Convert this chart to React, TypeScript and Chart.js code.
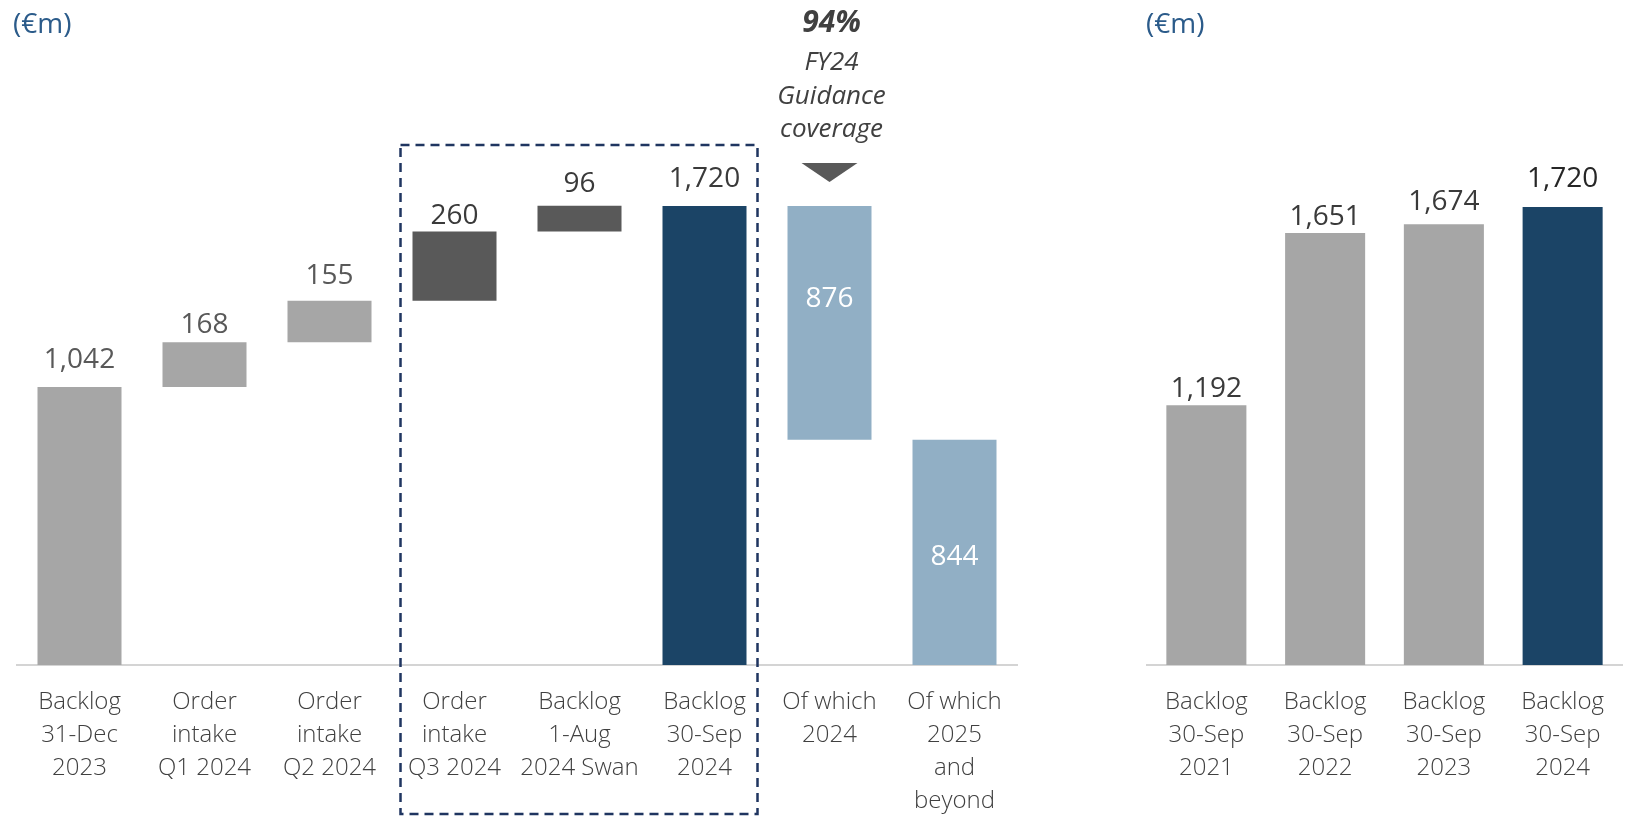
import React, { useEffect, useRef } from "react";
import { Chart, registerables } from "chart.js";

Chart.register(...registerables);

// ---------- data ----------
const leftCategories: string[][] = [
  ["Backlog", "31-Dec", "2023"],
  ["Order", "intake", "Q1 2024"],
  ["Order", "intake", "Q2 2024"],
  ["Order", "intake", "Q3 2024"],
  ["Backlog", "1-Aug", "2024 Swan"],
  ["Backlog", "30-Sep", "2024"],
  ["Of which", "2024"],
  ["Of which", "2025", "and", "beyond"],
];
const leftValues = [1042, 168, 155, 260, 96, 1720, 876, 844];
const leftKinds = ["total", "step", "step", "step", "step", "total", "split", "split"];
const leftValueLabels = ["1,042", "168", "155", "260", "96", "1,720", "876", "844"];

const rightCategories: string[][] = [
  ["Backlog", "30-Sep", "2021"],
  ["Backlog", "30-Sep", "2022"],
  ["Backlog", "30-Sep", "2023"],
  ["Backlog", "30-Sep", "2024"],
];
const rightValues = [1192, 1651, 1674, 1720];
const rightValueLabels = ["1,192", "1,651", "1,674", "1,720"];

const unitLabel = "(€m)";
const coverageLines = ["94%", "FY24", "Guidance", "coverage"];

// ---------- styles ----------
const GREY = "#A6A6A6";
const DARK = "#595959";
const NAVY = "#1B4466";
const LIGHTBLUE = "#91AFC5";
const leftColors = [GREY, GREY, GREY, DARK, DARK, NAVY, LIGHTBLUE, LIGHTBLUE];
const rightColors = [GREY, GREY, GREY, NAVY];
const leftLabelGap = [29, 19, 27, 17, 24, 29, 0, 0];
const rightLabelGap = [18, 18, 24, 30];
const FONT = '"Open Sans", "Noto Sans", sans-serif';

function buildRanges(values: number[], kinds: string[]): number[][] {
  let run = 0;
  let remaining = 0;
  return values.map((v, i) => {
    const k = kinds[i];
    if (k === "total") {
      run = v;
      remaining = v;
      return [0, v];
    }
    if (k === "step") {
      const r = [run, run + v];
      run += v;
      return r;
    }
    const r = [remaining - v, remaining];
    remaining -= v;
    return r;
  });
}

function xAxis(labels: string[][]) {
  return {
    type: "category" as const,
    labels,
    grid: { display: false, drawTicks: false },
    border: { display: true, color: "#D4D4D4", width: 2 },
    ticks: {
      autoSkip: false,
      maxRotation: 0,
      minRotation: 0,
      padding: 21,
      color: "#404040",
      font: { family: FONT, size: 24, weight: 300 as any, lineHeight: 33 / 24 },
    },
    afterFit: (s: any) => {
      s.height = 152;
    },
  };
}

export default function App() {
  const leftRef = useRef<HTMLCanvasElement>(null);
  const rightRef = useRef<HTMLCanvasElement>(null);

  useEffect(() => {
    const leftPlugin = {
      id: "leftDecor",
      afterDatasetsDraw(chart: any) {
        const ctx = chart.ctx as CanvasRenderingContext2D;
        const meta = chart.getDatasetMeta(0);
        const xs = chart.scales.x;
        ctx.save();
        meta.data.forEach((bar: any, i: number) => {
          const p = bar.getProps(["x", "y", "base", "width"], true);
          const top = Math.min(p.y, p.base);
          const bottom = Math.max(p.y, p.base);
          if (leftKinds[i] === "split") {
            ctx.fillStyle = "#FFFFFF";
            ctx.font = `400 28px ${FONT}`;
            ctx.textAlign = "center";
            ctx.textBaseline = "middle";
            const cy = i === 6 ? top + 93 : (top + bottom) / 2 + 5;
            ctx.fillText(leftValueLabels[i], p.x, cy);
          } else {
            ctx.fillStyle = i < 3 ? "#595959" : "#3A3A3A";
            ctx.font = `400 28px ${FONT}`;
            ctx.textAlign = "center";
            ctx.textBaseline = "alphabetic";
            ctx.fillText(leftValueLabels[i], p.x, top - leftLabelGap[i] + 10);
          }
        });

        // unit label
        ctx.fillStyle = "#2B5B8A";
        ctx.font = `400 28px ${FONT}`;
        ctx.textAlign = "left";
        ctx.textBaseline = "alphabetic";
        ctx.fillText(unitLabel, 13, 33);

        // coverage annotation over "Of which 2024"
        const cx = xs.getPixelForValue(6);
        ctx.fillStyle = "#404040";
        ctx.textAlign = "center";
        ctx.font = `italic 700 30px ${FONT}`;
        ctx.fillText(coverageLines[0], cx + 2, 32);
        ctx.font = `italic 400 26px ${FONT}`;
        ctx.fillText(coverageLines[1], cx + 2, 70);
        ctx.fillText(coverageLines[2], cx + 2, 104);
        ctx.fillText(coverageLines[3], cx + 2, 137);

        // triangle
        ctx.fillStyle = "#595959";
        ctx.beginPath();
        ctx.moveTo(cx - 28, 163);
        ctx.lineTo(cx + 28, 163);
        ctx.lineTo(cx, 182);
        ctx.closePath();
        ctx.fill();

        // dashed box around Q3 items
        const x0 = xs.getPixelForValue(3) - 54;
        const x1 = xs.getPixelForValue(5) + 53;
        ctx.strokeStyle = "#1F3560";
        ctx.lineWidth = 2.5;
        ctx.setLineDash([9, 6]);
        ctx.strokeRect(x0, 145, x1 - x0, 669);
        ctx.restore();
      },
    };

    const left = new Chart(leftRef.current!, {
      type: "bar",
      data: {
        labels: leftCategories as any,
        datasets: [
          {
            data: buildRanges(leftValues, leftKinds) as any,
            backgroundColor: leftColors,
            borderWidth: 0,
            borderSkipped: false,
            barPercentage: 0.672,
            categoryPercentage: 1,
          },
        ],
      },
      options: {
        responsive: false,
        animation: false,
        layout: { padding: { left: 17, right: 33, top: 665 - 2000 * 0.2668, bottom: 0 } },
        plugins: { legend: { display: false }, tooltip: { enabled: false } },
        scales: {
          x: xAxis(leftCategories) as any,
          y: { display: false, min: 0, max: 2000 },
        },
      },
      plugins: [leftPlugin],
    });

    const rightPlugin = {
      id: "rightDecor",
      afterDatasetsDraw(chart: any) {
        const ctx = chart.ctx as CanvasRenderingContext2D;
        const meta = chart.getDatasetMeta(0);
        ctx.save();
        meta.data.forEach((bar: any, i: number) => {
          const p = bar.getProps(["x", "y", "base"], true);
          const top = Math.min(p.y, p.base);
          const last = i === rightValues.length - 1;
          ctx.fillStyle = last ? "#262626" : "#3A3A3A";
          ctx.font = `${last ? 500 : 400} 28px ${FONT}`;
          ctx.textAlign = "center";
          ctx.textBaseline = "alphabetic";
          ctx.fillText(rightValueLabels[i], p.x, top - rightLabelGap[i] + 10);
        });
        ctx.fillStyle = "#2B5B8A";
        ctx.font = `400 28px ${FONT}`;
        ctx.textAlign = "left";
        ctx.fillText(unitLabel, 96, 33);
        ctx.restore();
      },
    };

    const right = new Chart(rightRef.current!, {
      type: "bar",
      data: {
        labels: rightCategories as any,
        datasets: [
          {
            data: rightValues,
            backgroundColor: rightColors,
            borderWidth: 0,
            barPercentage: 0.674,
            categoryPercentage: 1,
          },
        ],
      },
      options: {
        responsive: false,
        animation: false,
        layout: { padding: { left: 97, right: 5, top: 665 - 1500 * 0.3754, bottom: 0 } },
        plugins: { legend: { display: false }, tooltip: { enabled: false } },
        scales: {
          x: xAxis(rightCategories) as any,
          y: { display: false, min: 500, max: 2000 },
        },
      },
      plugins: [rightPlugin],
    });

    return () => {
      left.destroy();
      right.destroy();
    };
  }, []);

  return (
    <div
      style={{
        position: "absolute",
        left: 0,
        top: 0,
        width: 1627,
        height: 817,
        overflow: "hidden",
        background: "#FFFFFF",
      }}
    >
      <canvas
        ref={leftRef}
        width={1050}
        height={817}
        style={{ position: "absolute", left: 0, top: 0, width: 1050, height: 817 }}
      />
      <canvas
        ref={rightRef}
        width={577}
        height={817}
        style={{ position: "absolute", left: 1050, top: 0, width: 577, height: 817 }}
      />
    </div>
  );
}
